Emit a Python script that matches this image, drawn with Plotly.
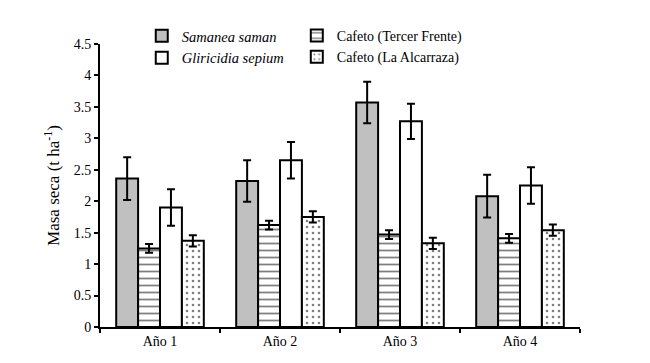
import plotly.graph_objects as go

years = ["Año 1", "Año 2", "Año 3", "Año 4"]
samanea = [2.36, 2.32, 3.57, 2.08]
samanea_err = [0.34, 0.33, 0.33, 0.34]
tercer = [1.25, 1.62, 1.47, 1.41]
tercer_err = [0.07, 0.07, 0.07, 0.07]
gliri = [1.90, 2.65, 3.27, 2.25]
gliri_err = [0.29, 0.29, 0.28, 0.29]
alca = [1.37, 1.75, 1.33, 1.54]
alca_err = [0.09, 0.09, 0.09, 0.09]

FONT = "Liberation Serif"

def err(vals, w):
    return dict(type="data", array=vals, color="black", thickness=2, width=w, visible=True)

fig = go.Figure()
fig.add_trace(go.Bar(name="<i>Samanea saman</i>", x=years, y=samanea, error_y=err(samanea_err, 4),
                     marker=dict(color="#c0c0c0", line=dict(color="black", width=2)), legend="legend"))
fig.add_trace(go.Bar(name="Cafeto (Tercer Frente)", x=years, y=tercer, error_y=err(tercer_err, 4),
                     marker=dict(color="white", line=dict(color="black", width=2),
                                 pattern=dict(shape="-", size=7, solidity=0.25, fgcolor="black", bgcolor="white")),
                     legend="legend2"))
fig.add_trace(go.Bar(name="<i>Gliricidia sepium</i>", x=years, y=gliri, error_y=err(gliri_err, 4),
                     marker=dict(color="white", line=dict(color="black", width=2)), legend="legend"))
fig.add_trace(go.Bar(name="Cafeto (La Alcarraza)", x=years, y=alca, error_y=err(alca_err, 4),
                     marker=dict(color="white", line=dict(color="black", width=2),
                                 pattern=dict(shape=".", size=6, solidity=0.15, fgcolor="black", bgcolor="white")),
                     legend="legend2"))

fig.update_layout(
    width=650, height=363,
    margin=dict(l=92, r=78, t=29, b=44),
    paper_bgcolor="white", plot_bgcolor="white",
    barmode="group", bargap=0.27, bargroupgap=0,
    font=dict(family=FONT, size=14, color="black"),
    showlegend=True,
    legend=dict(x=0.087, y=1.085, xanchor="left", yanchor="top", bgcolor="rgba(0,0,0,0)",
                font=dict(family=FONT, size=14.5), tracegroupgap=0, itemwidth=30),
    legend2=dict(x=0.41, y=1.085, xanchor="left", yanchor="top", bgcolor="rgba(0,0,0,0)",
                 font=dict(family=FONT, size=14), tracegroupgap=0, itemwidth=30),
    xaxis=dict(showline=True, linecolor="black", linewidth=2, ticks="outside", ticklen=4,
               tickwidth=2, tickcolor="black", tickson="boundaries", showgrid=False,
               tickfont=dict(family=FONT, size=14)),
    yaxis=dict(range=[0, 4.5], dtick=0.5, showline=True, linecolor="black", linewidth=2,
               ticks="outside", ticklen=4, tickwidth=2, tickcolor="black", showgrid=False,
               zeroline=False, tickformat="~g",
               title=dict(text="Masa seca (t ha<sup>-1</sup>)", font=dict(family=FONT, size=17), standoff=10),
               tickfont=dict(family=FONT, size=14)),
)

fig.write_html("out.html")
